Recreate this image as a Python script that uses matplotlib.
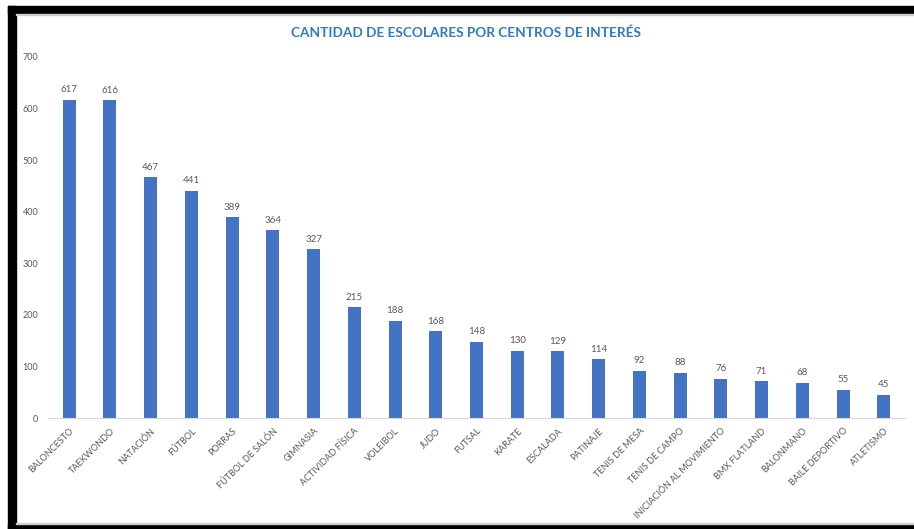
import matplotlib
matplotlib.use("Agg")
import matplotlib.pyplot as plt
from matplotlib.patches import Rectangle

# Data
centros = ['BALONCESTO', 'TAEKWONDO', 'NATACIÓN', 'FÚTBOL', 'PORRAS',
           'FÚTBOL DE SALÓN', 'GIMNASIA', 'ACTIVIDAD FÍSICA', 'VOLEIBOL',
           'JUDO', 'FUTSAL', 'KARATE', 'ESCALADA', 'PATINAJE',
           'TENIS DE MESA', 'TENIS DE CAMPO', 'INICIACIÓN AL MOVIMIENTO',
           'BMX FLATLAND', 'BALONMANO', 'BAILE DEPORTIVO', 'ATLETISMO']
escolares = [617, 616, 467, 441, 389, 364, 327, 215, 188, 168, 148,
             130, 129, 114, 92, 88, 76, 71, 68, 55, 45]
y_ticks = [0, 100, 200, 300, 400, 500, 600, 700]

plt.rcParams['font.family'] = ['Lato', 'DejaVu Sans']

W, H = 914, 529
fig = plt.figure(figsize=(W / 100, H / 100), dpi=100)

# black frame around the screenshot
def px_rect(x0, y0, x1, y1, color):
    fig.patches.append(Rectangle((x0 / W, 1 - y1 / H), (x1 - x0) / W, (y1 - y0) / H,
                                 transform=fig.transFigure, color=color, zorder=0))

px_rect(8, 6, W, 14, 'black')
px_rect(8, 6, 16, H, 'black')
px_rect(8, 524, W, H, 'black')
px_rect(16, 14, W, 15, '#d0d0d0')
px_rect(16, 523, W, 524, '#d0d0d0')

ax = fig.add_axes([48 / W, 1 - 418 / H, (905 - 48) / W, (418 - 57) / H])
x = list(range(len(centros)))
bars = ax.bar(x, escolares, width=0.32, color='#4472C4', zorder=2)

for xi, v in zip(x, escolares):
    ax.annotate(str(v), (xi, v), xytext=(0, 4), textcoords='offset points',
                ha='center', va='bottom', fontsize=7, color='#595959')

ax.set_ylim(0, 700)
ax.set_xlim(-0.52, len(centros) - 0.48)
ax.set_yticks(y_ticks)
ax.set_yticklabels([str(t) for t in y_ticks], fontsize=6.5, color='#595959')
ax.set_xticks(x)
ax.set_xticklabels(centros, rotation=45, ha='right', rotation_mode='anchor',
                   fontsize=6.5, color='#595959')
ax.tick_params(axis='both', length=0)
ax.tick_params(axis='y', pad=7)
ax.tick_params(axis='x', pad=6)

for s in ['top', 'right', 'left']:
    ax.spines[s].set_visible(False)
ax.spines['bottom'].set_color('#d9d9d9')

fig.text(466 / W, 1 - 33 / H, 'CANTIDAD DE ESCOLARES POR CENTROS DE INTERÉS',
         ha='center', va='center', fontsize=9.8, fontweight='bold', color='#2E7BC6')

fig.savefig('out.png', dpi=100)
